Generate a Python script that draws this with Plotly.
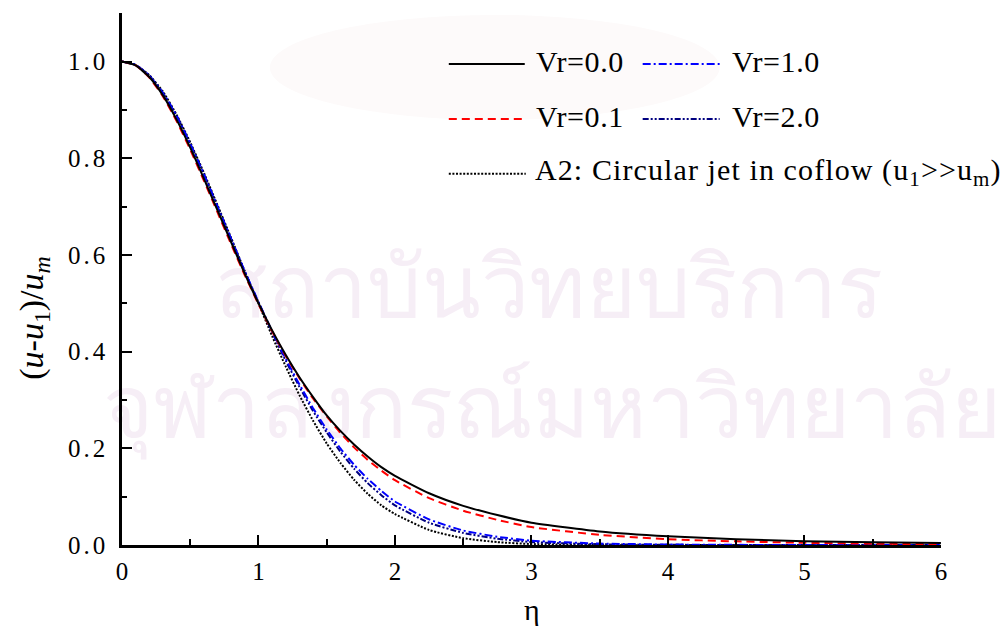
import plotly.graph_objects as go

# Normalised velocity-defect profiles (u-u1)/um versus similarity coordinate eta
eta = [0.0, 0.1, 0.2, 0.3, 0.4, 0.5, 0.6, 0.7, 0.8, 0.9, 1.0,
       1.1, 1.2, 1.3, 1.4, 1.5, 1.6, 1.7, 1.8, 1.9, 2.0,
       2.25, 2.5, 2.75, 3.0, 3.5, 4.0, 4.5, 5.0, 5.5, 6.0]

vr_00 = [1.000, 0.992, 0.968, 0.930, 0.880, 0.822, 0.758, 0.692, 0.626, 0.561, 0.500,
         0.444, 0.393, 0.347, 0.306, 0.268, 0.236, 0.208, 0.183, 0.161, 0.143,
         0.107, 0.081, 0.062, 0.046, 0.028, 0.018, 0.012, 0.008, 0.0058, 0.0043]
vr_01 = [1.000, 0.992, 0.967, 0.928, 0.877, 0.818, 0.754, 0.688, 0.622, 0.558, 0.498,
         0.442, 0.391, 0.345, 0.303, 0.266, 0.232, 0.202, 0.176, 0.154, 0.134,
         0.097, 0.071, 0.052, 0.037, 0.021, 0.012, 0.0075, 0.0045, 0.0028, 0.0015]
vr_10 = [1.000, 0.993, 0.971, 0.935, 0.888, 0.830, 0.767, 0.700, 0.633, 0.566, 0.503,
         0.442, 0.385, 0.332, 0.283, 0.239, 0.200, 0.166, 0.137, 0.112, 0.090,
         0.053, 0.030, 0.017, 0.009, 0.003, 0.001, 0.0003, 0.0, 0.0, 0.0]
vr_20 = [1.000, 0.993, 0.971, 0.935, 0.888, 0.830, 0.767, 0.700, 0.632, 0.565, 0.502,
         0.440, 0.381, 0.327, 0.277, 0.233, 0.193, 0.158, 0.128, 0.103, 0.082,
         0.046, 0.025, 0.013, 0.006, 0.0015, 0.0004, 0.0, 0.0, 0.0, 0.0]
a2_jet = [1.000, 0.993, 0.972, 0.938, 0.890, 0.833, 0.770, 0.703, 0.635, 0.566, 0.500,
          0.432, 0.369, 0.310, 0.257, 0.210, 0.170, 0.135, 0.106, 0.082, 0.064,
          0.031, 0.014, 0.006, 0.002, 0.0003, 0.0, 0.0, 0.0, 0.0, 0.0]

series_names = ["Vr=0.0", "Vr=0.1", "Vr=1.0", "Vr=2.0",
                "A2: Circular jet in coflow (u<sub>1</sub>>>u<sub>m</sub>)"]
y_ticks = [0.0, 0.2, 0.4, 0.6, 0.8, 1.0]
x_ticks = [0, 1, 2, 3, 4, 5, 6]
watermark_lines = ["สถาบันวิทยบริการ", "จุฬาลงกรณ์มหาวิทยาลัย"]

SERIF = "Liberation Serif, Times New Roman, serif"
W, H = 1002, 629
L, R, T, B = 122, 60.5, 13, 83.5
PW, PH = W - L - R, H - T - B

styles = [
    dict(color="#000000", dash="solid"),
    dict(color="#FF0000", dash="8px,5px"),
    dict(color="#0000FF", dash="8px,3px,2px,3px"),
    dict(color="#000080", dash="6px,2px,2px,2px,2px,2px"),
    dict(color="#000000", dash="2px,1.6px"),
]
profiles = [vr_00, vr_01, vr_10, vr_20, a2_jet]

fig = go.Figure()
# draw the analytical A2 curve first so the computed ones sit on top
for i in [4, 3, 2, 1, 0]:
    fig.add_trace(go.Scatter(
        x=eta, y=profiles[i], mode="lines", name=series_names[i],
        line=dict(color=styles[i]["color"], dash=styles[i]["dash"], width=2,
                  shape="spline", smoothing=0.5),
        showlegend=False, hoverinfo="skip",
    ))


def px_x(p):
    return (p - L) / PW


def px_y(p):
    return (H - B - p) / PH


# faint emblem and institutional watermark, kept underneath the curves
fig.add_shape(type="circle", xref="paper", yref="paper", layer="below",
              x0=px_x(270), x1=px_x(720), y0=px_y(120), y1=px_y(15),
              line_width=0, fillcolor="#FDFAFA")
wm_font = dict(family="Noto Sans, DejaVu Sans", size=86, color="#F6EEF6")
for text, cx, cy, half_w in [(watermark_lines[0], 549, 290, 340),
                             (watermark_lines[1], 552, 410, 450)]:
    fig.add_shape(type="rect", xref="paper", yref="paper", layer="below",
                  x0=px_x(cx - half_w), x1=px_x(cx + half_w),
                  y0=px_y(cy + 40), y1=px_y(cy - 40),
                  line_width=0, fillcolor="rgba(0,0,0,0)",
                  label=dict(text=text, font=wm_font, textposition="middle center"))

# hand-placed legend block: two columns plus one wide row
legend_rows = [
    (0, 449, 525, 64, 534),
    (2, 643, 720, 64, 730),
    (1, 449, 525, 119, 534),
    (3, 643, 720, 119, 730),
    (4, 449, 526, 174, 533),
]
for idx, x0, x1, yy, tx in legend_rows:
    fig.add_shape(type="line", xref="paper", yref="paper",
                  x0=px_x(x0), x1=px_x(x1), y0=px_y(yy), y1=px_y(yy),
                  line=dict(color=styles[idx]["color"], dash=styles[idx]["dash"], width=2))
    spacing = "1.1px" if idx == 4 else "0.6px"
    fig.add_annotation(xref="paper", yref="paper", x=px_x(tx), y=px_y(yy - 2),
                       xanchor="left", yanchor="middle", showarrow=False,
                       text=f'<span style="letter-spacing:{spacing}">{series_names[idx]}</span>',
                       font=dict(family=SERIF, size=30, color="#000000"))

# axis titles
fig.add_annotation(xref="paper", yref="paper", x=px_x(34), y=px_y(318),
                   text="(<i>u</i>-<i>u</i><sub>1</sub>)/<i>u</i><sub><i>m</i></sub>",
                   textangle=-90, showarrow=False, xanchor="center", yanchor="middle",
                   font=dict(family=SERIF, size=34, color="#000000"))
fig.add_annotation(xref="paper", yref="paper", x=0.5, y=px_y(610),
                   text="η", showarrow=False, xanchor="center", yanchor="middle",
                   font=dict(family=SERIF, size=30, color="#000000"))

fig.update_layout(
    width=W, height=H,
    margin=dict(l=L, r=R, t=T, b=B),
    paper_bgcolor="#FFFFFF", plot_bgcolor="rgba(0,0,0,0)",
    showlegend=False,
)
fig.update_xaxes(
    range=[0, 6.0005], tickvals=x_ticks, ticktext=[str(v) for v in x_ticks],
    ticks="inside", ticklen=10, tickwidth=2, tickcolor="#000000",
    minor=dict(dtick=0.5, ticks="inside", ticklen=6, tickwidth=2, tickcolor="#000000"),
    showline=True, linewidth=2.5, linecolor="#000000", showgrid=False, zeroline=False,
    tickfont=dict(family=SERIF, size=25, color="#000000"), ticklabelstandoff=2,
)
fig.update_yaxes(
    range=[0, 1.1005], tickvals=y_ticks,
    ticktext=[f'<span style="letter-spacing:3px">{v:.1f}</span>' for v in y_ticks],
    ticks="inside", ticklen=10, tickwidth=2, tickcolor="#000000",
    minor=dict(dtick=0.1, ticks="inside", ticklen=5, tickwidth=2, tickcolor="#000000"),
    showline=True, linewidth=2.5, linecolor="#000000", showgrid=False, zeroline=False,
    tickfont=dict(family=SERIF, size=25, color="#000000"), ticklabelstandoff=6,
)

fig.write_html("out.html")
